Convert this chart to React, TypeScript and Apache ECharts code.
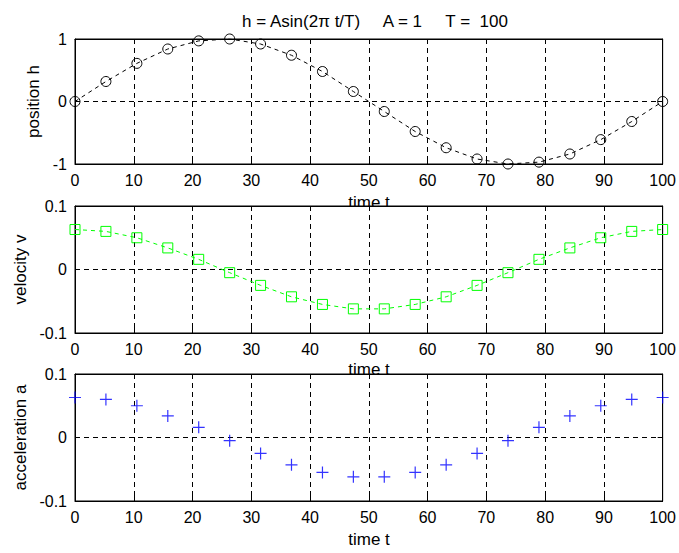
import React, { useEffect, useRef } from "react";
import * as echarts from "echarts";

const TIME = [0, 5.26, 10.53, 15.79, 21.05, 26.32, 31.58, 36.84, 42.11, 47.37, 52.63, 57.89, 63.16, 68.42, 73.68, 78.95, 84.21, 89.47, 94.74, 100];
const POSITION = [0, 0.32, 0.61, 0.84, 0.97, 1.0, 0.92, 0.74, 0.48, 0.16, -0.16, -0.48, -0.74, -0.92, -1.0, -0.97, -0.84, -0.61, -0.32, 0];
const VELOCITY = [0.063, 0.06, 0.05, 0.034, 0.016, -0.005, -0.025, -0.043, -0.055, -0.062, -0.062, -0.055, -0.043, -0.025, -0.005, 0.016, 0.034, 0.05, 0.06, 0.063];
const ACCELERATION = [0.063, 0.06, 0.05, 0.034, 0.016, -0.005, -0.025, -0.043, -0.055, -0.062, -0.062, -0.055, -0.043, -0.025, -0.005, 0.016, 0.034, 0.05, 0.06, 0.063];

const TITLE = "h = Asin(2\u03c0 t/T)     A = 1     T =  100";
const X_LABEL = "time t";
const Y_LABELS = ["position h", "velocity v", "acceleration a"];
const Y_RANGES = [
  [-1, 1, 1],
  [-0.1, 0.1, 0.1],
  [-0.1, 0.1, 0.1],
];

const FONT = "'Liberation Sans', Arial, sans-serif";

export default function App() {
  const ref = useRef<HTMLDivElement>(null);
  useEffect(() => {
    if (!ref.current) return;
    const chart = echarts.init(ref.current, null, { renderer: "svg" });
    const grids = [
      { left: 75, top: 39, width: 588, height: 125 },
      { left: 75, top: 206, width: 588, height: 127 },
      { left: 75, top: 374, width: 588, height: 127 },
    ];
    const xAxes: any[] = [];
    const yAxes: any[] = [];
    const dash = [5, 4];
    grids.forEach((_, i) => {
      xAxes.push({
        type: "value",
        gridIndex: i,
        position: "bottom",
        min: 0,
        max: 100,
        interval: 10,
        axisLine: { show: true, onZero: false, lineStyle: { color: "#000", width: 1 } },
        axisTick: { show: true, inside: true, length: 5, lineStyle: { color: "#000" } },
        axisLabel: { color: "#000", fontSize: 16, fontFamily: FONT, margin: 8 },
        splitLine: { show: true, lineStyle: { color: "#000", type: dash, width: 1 } },
      });
      xAxes.push({
        type: "value",
        gridIndex: i,
        position: "top",
        min: 0,
        max: 100,
        interval: 10,
        axisLine: { show: true, onZero: false, lineStyle: { color: "#000", width: 1 } },
        axisTick: { show: true, inside: true, length: 5, lineStyle: { color: "#000" } },
        axisLabel: { show: false },
        splitLine: { show: false },
      });
      const [mn, mx, iv] = Y_RANGES[i];
      yAxes.push({
        type: "value",
        gridIndex: i,
        position: "left",
        min: mn,
        max: mx,
        interval: iv,
        name: Y_LABELS[i],
        nameLocation: "middle",
        nameGap: [31, 44, 45][i],
        nameTextStyle: { color: "#000", fontSize: 17, fontFamily: FONT },
        axisLine: { show: true, onZero: false, lineStyle: { color: "#000", width: 1 } },
        axisTick: { show: true, inside: true, length: 5, lineStyle: { color: "#000" } },
        axisLabel: {
          color: "#000",
          fontSize: 16,
          fontFamily: FONT,
          margin: 8,
          formatter: (v: number) => String(Math.round(v * 10) / 10),
        },
        splitLine: { show: true, lineStyle: { color: "#000", type: dash, width: 1 } },
      });
      yAxes.push({
        type: "value",
        gridIndex: i,
        position: "right",
        min: mn,
        max: mx,
        interval: iv,
        axisLine: { show: true, onZero: false, lineStyle: { color: "#000", width: 1 } },
        axisTick: { show: true, inside: true, length: 5, lineStyle: { color: "#000" } },
        axisLabel: { show: false },
        splitLine: { show: false },
      });
    });

    const pts = (ys: number[]) => TIME.map((t, k) => [t, ys[k]]);

    chart.setOption({
      animation: false,
      backgroundColor: "#fff",
      grid: grids.map((g) => ({
        ...g,
        show: true,
        backgroundColor: "#fff",
        borderColor: "#000",
        borderWidth: 1,
      })),
      xAxis: xAxes,
      yAxis: yAxes,
      graphic: [
        {
          type: "text",
          x: 375,
          y: 21,
          z: -10,
          style: {
            text: TITLE,
            fontSize: 17,
            fontFamily: FONT,
            fill: "#000",
            textAlign: "center",
            textVerticalAlign: "middle",
          },
        },
        ...[202, 369, 539].map((y) => ({
          type: "text",
          x: 369,
          y,
          z: -10,
          style: {
            text: X_LABEL,
            fontSize: 17,
            fontFamily: FONT,
            fill: "#000",
            textAlign: "center",
            textVerticalAlign: "middle",
          },
        })),
      ],
      series: [
        {
          type: "line",
          xAxisIndex: 0,
          yAxisIndex: 0,
          data: pts(POSITION),
          symbol: "circle",
          symbolSize: 10,
          lineStyle: { color: "#000", width: 1, type: [4, 4] },
          itemStyle: { color: "rgba(0,0,0,0)", borderColor: "#000", borderWidth: 1 },
          z: 5,
        },
        {
          type: "line",
          xAxisIndex: 2,
          yAxisIndex: 2,
          data: pts(VELOCITY),
          symbol: "rect",
          symbolSize: 10,
          lineStyle: { color: "#00ff00", width: 1, type: [4, 4] },
          itemStyle: { color: "rgba(0,0,0,0)", borderColor: "#00ff00", borderWidth: 1 },
          z: 5,
        },
        {
          type: "scatter",
          xAxisIndex: 4,
          yAxisIndex: 4,
          data: pts(ACCELERATION),
          symbol: "path://M5,0L5,10M0,5L10,5",
          symbolSize: 12,
          itemStyle: { color: "none", borderColor: "#0000ff", borderWidth: 1.2 },
          z: 5,
        },
      ],
    });
    return () => chart.dispose();
  }, []);
  return (
    <div
      ref={ref}
      style={{ position: "fixed", left: 0, top: 0, width: 679, height: 553 }}
    />
  );
}
